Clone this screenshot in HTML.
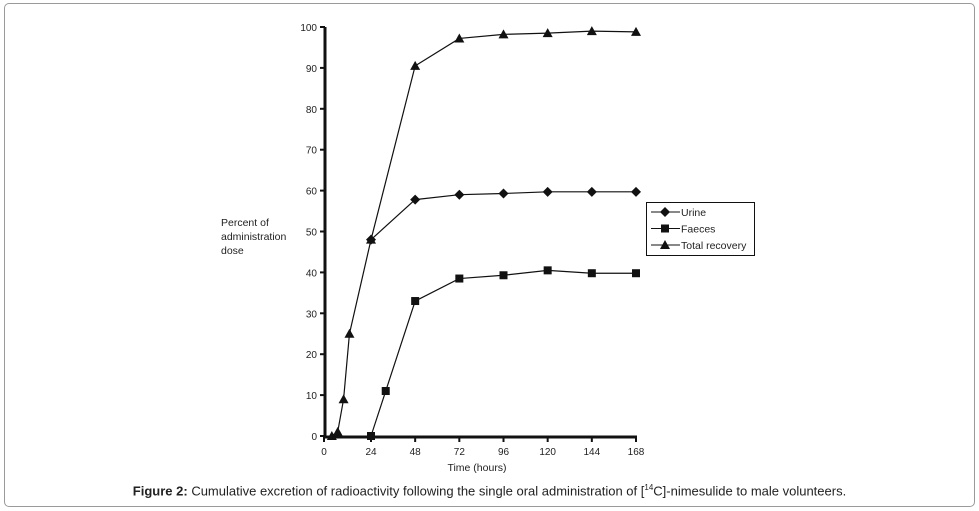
<!DOCTYPE html>
<html><head><meta charset="utf-8"><style>
body{margin:0;background:#fff;width:979px;height:511px;overflow:hidden;font-family:"Liberation Sans",sans-serif}
#frame{position:absolute;left:4px;top:3px;width:969px;height:502px;border:1px solid #9a9a9a;border-radius:5px}
#cap{position:absolute;left:0;width:979px;top:483px;text-align:center;font-size:13px;color:#222}
</style></head><body>
<div id="frame"></div>
<svg id="chart" width="979" height="511" style="position:absolute;left:0;top:0" font-family="Liberation Sans, sans-serif"></svg>
<div id="cap"><b>Figure 2:</b> Cumulative excretion of radioactivity following the single oral administration of [<sup style="font-size:8px">14</sup>C]-nimesulide to male volunteers.</div>
<script>
const xTicks=[0,24,48,72,96,120,144,168];
const yTicks=[0,10,20,30,40,50,60,70,80,90,100];
const totalT=[4,7,10,13,24,48,72,96,120,144,168];
const totalV=[0,1,9,25,48,90.5,97.2,98.2,98.5,99,98.8];
const urineT=[24,48,72,96,120,144,168];
const urineV=[48,57.8,59,59.3,59.7,59.7,59.7];
const faecesT=[24,32,48,72,96,120,144,168];
const faecesV=[0,11,33,38.5,39.3,40.5,39.8,39.8];
const NS='http://www.w3.org/2000/svg';
const svg=document.getElementById('chart');
function X(t){return t<24?324+t*47/24:371+(t-24)*265/144;}
function Y(v){return 436-v*4.09;}
function mk(tag,a,parent){const e=document.createElementNS(NS,tag);for(const k in a)e.setAttribute(k,a[k]);(parent||svg).appendChild(e);return e;}
// axes
let ax=mk('line',{x1:325,y1:Y(100),x2:325,y2:438,stroke:'#111','stroke-width':3});


ax=mk('line',{x1:323,y1:437,x2:637,y2:437,stroke:'#111','stroke-width':3});


yTicks.forEach(v=>{
  mk('line',{x1:320,y1:Y(v),x2:325,y2:Y(v),stroke:'#111','stroke-width':2});
  const t=mk('text',{x:317,y:Y(v)+4,'text-anchor':'end','font-size':10,fill:'#222'});t.textContent=v;
  
  
});
xTicks.forEach(v=>{
  mk('line',{x1:X(v),y1:437,x2:X(v),y2:442,stroke:'#111','stroke-width':2});
  const t=mk('text',{x:X(v),y:455,'text-anchor':'middle','font-size':10,fill:'#222'});t.textContent=v;
  
  
});
let tt=mk('text',{x:477,y:471,'text-anchor':'middle','font-size':10.5,fill:'#222'});tt.textContent='Time (hours)';


const yt=mk('text',{x:221,y:226,'font-size':10.5,fill:'#222'});


['Percent of','administration','dose'].forEach((s,i)=>{const ts=mk('tspan',{x:221,dy:i?14:0},yt);ts.textContent=s;});
function marker(shape,x,y,g){
  if(shape==='tri')return mk('polygon',{points:`${x},${y-5} ${x-5},${y+4} ${x+5},${y+4}`,fill:'#111'},g);
  if(shape==='sq')return mk('rect',{x:x-4,y:y-4,width:8,height:8,fill:'#111'},g);
  return mk('polygon',{points:`${x},${y-5} ${x+5},${y} ${x},${y+5} ${x-5},${y}`,fill:'#111'},g);
}
function series(name,T,V,shape){
  const g=mk('g',{});
  
  
  mk('polyline',{points:T.map((t,i)=>X(t)+','+Y(V[i])).join(' '),fill:'none',stroke:'#111','stroke-width':1.2},g);
  T.forEach((t,i)=>{const m=marker(shape,X(t),Y(V[i]),g);
    
    });
}
series('urine-series',urineT,urineV,'dia');
series('faeces-series',faecesT,faecesV,'sq');
series('total-recovery-series',totalT,totalV,'tri');
// legend
const lg=mk('g',{});


mk('rect',{x:646.5,y:202.5,width:108,height:53,fill:'#fff',stroke:'#111','stroke-width':1},lg);
[['Urine','dia'],['Faeces','sq'],['Total recovery','tri']].forEach((e,i)=>{
  const y=212+i*16.5;
  const eg=mk('g',{},lg);
  
  
  mk('line',{x1:651,y1:y,x2:680,y2:y,stroke:'#111','stroke-width':1},eg);
  marker(e[1],665,y,eg);
  const t=mk('text',{x:681,y:y+4,'font-size':10.5,fill:'#222'},eg);t.textContent=e[0];
});
</script>
</body></html>
